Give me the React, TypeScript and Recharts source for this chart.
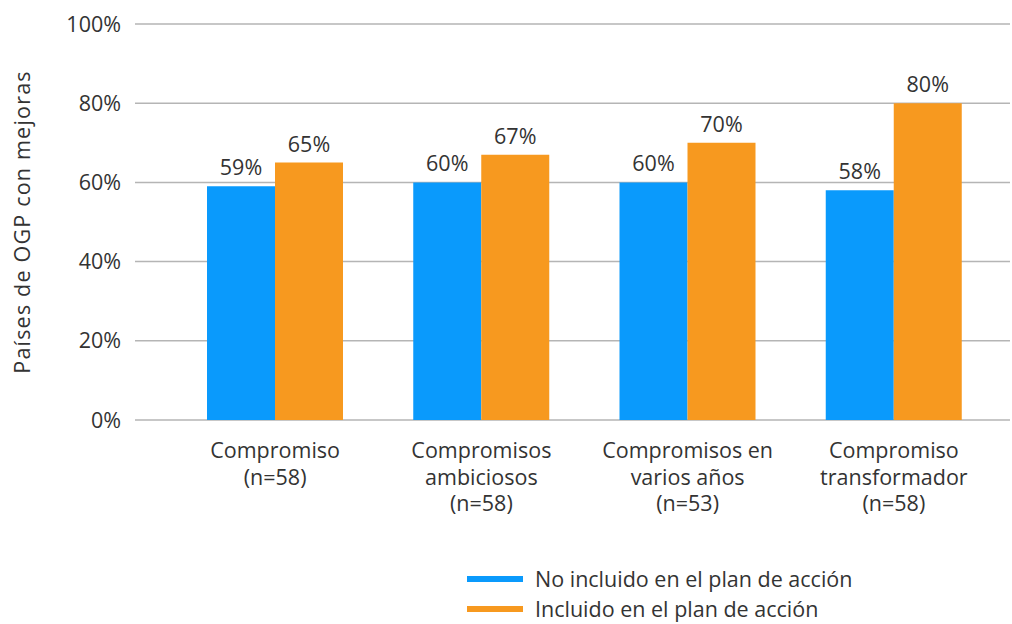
import {
  BarChart,
  Bar,
  XAxis,
  YAxis,
  CartesianGrid,
  LabelList,
} from 'recharts';

const CATEGORIES = [
  'Compromiso\n(n=58)',
  'Compromisos\nambiciosos\n(n=58)',
  'Compromisos en\nvarios años\n(n=53)',
  'Compromiso\ntransformador\n(n=58)',
];
const NOT_INCLUDED = [59, 60, 60, 58];
const INCLUDED = [65, 67, 70, 80];
const Y_TICKS = [0, 20, 40, 60, 80, 100];

const SERIES = [
  { key: 'noIncluido', name: 'No incluido en el plan de acción', color: '#0A9AFC' },
  { key: 'incluido', name: 'Incluido en el plan de acción', color: '#F7991F' },
];

const data = CATEGORIES.map((cat, i) => ({
  cat,
  noIncluido: NOT_INCLUDED[i],
  incluido: INCLUDED[i],
}));

const FONT = '"Open Sans", Lato, sans-serif';
const TEXT = '#333333';
const SIZE = 21.5;
const WEIGHT = 400;

function CategoryTick({ x, y, payload }: any) {
  const lines = String(payload.value).split('\n');
  return (
    <text x={x} y={y} textAnchor="middle" fill={TEXT} fontSize={SIZE} fontWeight={WEIGHT} fontFamily={FONT}>
      {lines.map((line, i) => (
        <tspan key={i} x={x} dy={i === 0 ? 30 : 26.5}>
          {line}
        </tspan>
      ))}
    </text>
  );
}

export default function App() {
  return (
    <div style={{ position: 'absolute', left: 0, top: 0, width: 1012, height: 624, background: '#fff' }}>
      <BarChart
        width={1012}
        height={624}
        data={data}
        margin={{ top: 24, right: 2, left: 0, bottom: 94 }}
        barGap={0}
        barSize={68}
      >
        <CartesianGrid vertical={false} stroke="#b5b5b5" strokeWidth={1.5} />
        <XAxis
          dataKey="cat"
          axisLine={false}
          tickLine={false}
          height={110}
          padding={{ left: 37, right: 13 }}
          tick={<CategoryTick />}
          interval={0}
        />
        <YAxis
          width={135}
          domain={[0, 100]}
          ticks={Y_TICKS}
          axisLine={false}
          tickLine={false}
          tickSize={0}
          tickMargin={14}
          tickFormatter={(v: number) => `${v}%`}
          tick={{ fill: TEXT, fontSize: SIZE, fontWeight: WEIGHT, fontFamily: FONT }}
          label={{
            value: 'Países de OGP con mejoras',
            angle: -90,
            position: 'insideLeft',
            offset: 22,
            style: {
              textAnchor: 'middle',
              fill: TEXT,
              fontSize: SIZE,
              fontWeight: WEIGHT,
              fontFamily: FONT,
              letterSpacing: 1.2,
            },
          }}
        />
        {SERIES.map((s) => (
          <Bar key={s.key} dataKey={s.key} name={s.name} fill={s.color} isAnimationActive={false}>
            <LabelList
              dataKey={s.key}
              position="top"
              offset={11}
              formatter={(v: any) => `${v}%`}
              style={{ fill: TEXT, fontSize: SIZE, fontWeight: WEIGHT, fontFamily: FONT }}
            />
          </Bar>
        ))}
      </BarChart>
      <div
        style={{
          position: 'absolute',
          left: 467,
          top: 564,
          fontFamily: FONT,
          fontSize: SIZE,
          fontWeight: WEIGHT,
          color: TEXT,
          lineHeight: 1,
        }}
      >
        {SERIES.map((s) => (
          <div key={s.key} style={{ display: 'flex', alignItems: 'center', height: 30 }}>
            <div style={{ width: 56, height: 6, background: s.color, marginRight: 12 }} />
            <span>{s.name}</span>
          </div>
        ))}
      </div>
    </div>
  );
}
